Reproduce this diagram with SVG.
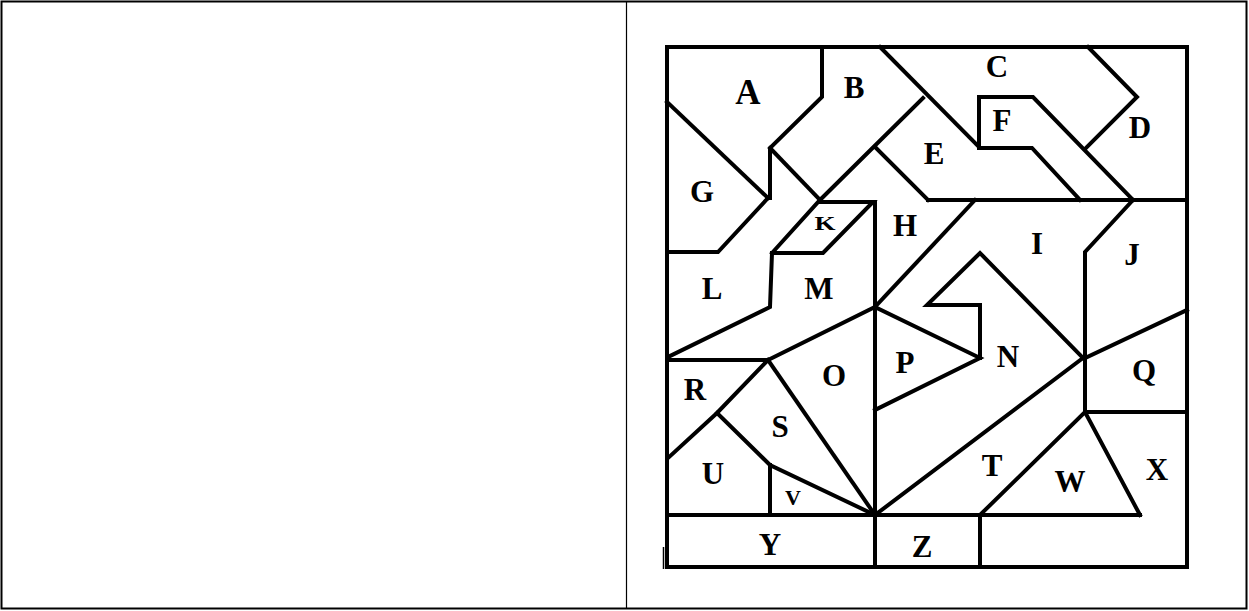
<svg xmlns="http://www.w3.org/2000/svg" width="1249" height="611" viewBox="0 0 1249 611">
<style>
.tbl{fill:none;stroke:#000}
.ln{fill:none;stroke:#000;stroke-width:4;stroke-linejoin:miter;stroke-linecap:square}
.lb{font-family:"Liberation Serif","Times New Roman",serif;font-weight:bold;font-size:31px;text-anchor:middle;fill:#000}
</style>
<rect width="1249" height="611" fill="#fff"/>
<g id="table">
<rect class="tbl" x="1.5" y="1.5" width="1245" height="607" stroke-width="2"/>
<line class="tbl" x1="626.5" y1="1" x2="626.5" y2="609" stroke-width="1.2"/>
</g>
<g id="map-lines">
<rect class="ln" x="667" y="47" width="520" height="520" stroke-width="4.5"/>
<polyline class="ln" points="822,47 822,97 770,148 770,198"/>
<polyline class="ln" points="667,102 768,198"/>
<polyline class="ln" points="768,198 718,252 667,252"/>
<polyline class="ln" points="770,148 820,200"/>
<polyline class="ln" points="923,98 820,200 772,253"/>
<polyline class="ln" points="880,47 979,147"/>
<polyline class="ln" points="875,147 928,200"/>
<polyline class="ln" points="928,200 1187,200"/>
<polyline class="ln" points="979,148 979,97 1033,97 1133,200"/>
<polyline class="ln" points="979,148 1032,148 1080,200"/>
<polyline class="ln" points="1088,47 1137,97 1085,149"/>
<polyline class="ln" points="820,202 873,202 823,253 772,253"/>
<polyline class="ln" points="772,253 770,307 668,357"/>
<polyline class="ln" points="875,202 875,567"/>
<polyline class="ln" points="975,200 875,307"/>
<polyline class="ln" points="875,307 768,360 667,360"/>
<polyline class="ln" points="875,307 980,358 875,410"/>
<polyline class="ln" points="980,358 980,305 927,305 980,253 1083,358"/>
<polyline class="ln" points="1133,200 1085,252 1085,412"/>
<polyline class="ln" points="1085,358 1187,310"/>
<polyline class="ln" points="1085,412 1187,412"/>
<polyline class="ln" points="1083,358 875,515"/>
<polyline class="ln" points="980,515 1085,412 1140,515"/>
<polyline class="ln" points="667,515 1140,515"/>
<polyline class="ln" points="980,515 980,567"/>
<polyline class="ln" points="768,360 717,413 668,458"/>
<polyline class="ln" points="768,360 875,515"/>
<polyline class="ln" points="717,413 770,465 875,515"/>
<polyline class="ln" points="770,465 770,515"/>
<line x1="663.5" y1="547" x2="663.5" y2="569" stroke="#000" stroke-width="1.5"/>
</g>
<g id="labels">
<text class="lb" x="748" y="104" style="font-size:35px">A</text>
<text class="lb" x="854" y="98">B</text>
<text class="lb" x="997" y="77">C</text>
<text class="lb" x="1140" y="138">D</text>
<text class="lb" x="934" y="164">E</text>
<text class="lb" x="1002" y="131">F</text>
<text class="lb" x="702" y="202">G</text>
<text class="lb" x="905" y="236">H</text>
<text class="lb" x="1037" y="254">I</text>
<text class="lb" x="1132" y="265">J</text>
<text class="lb" x="0" y="0" style="font-size:18px" transform="translate(825,230) scale(1.5,1)">K</text>
<text class="lb" x="712" y="299">L</text>
<text class="lb" x="819" y="299">M</text>
<text class="lb" x="1008" y="367">N</text>
<text class="lb" x="834" y="386">O</text>
<text class="lb" x="905" y="373">P</text>
<text class="lb" x="1144" y="381">Q</text>
<text class="lb" x="695" y="400">R</text>
<text class="lb" x="780" y="437">S</text>
<text class="lb" x="992" y="476">T</text>
<text class="lb" x="713" y="484">U</text>
<text class="lb" x="793" y="505" style="font-size:22px">V</text>
<text class="lb" x="1070" y="492">W</text>
<text class="lb" x="1157" y="480">X</text>
<text class="lb" x="770" y="555">Y</text>
<text class="lb" x="922" y="557">Z</text>
</g>
</svg>
